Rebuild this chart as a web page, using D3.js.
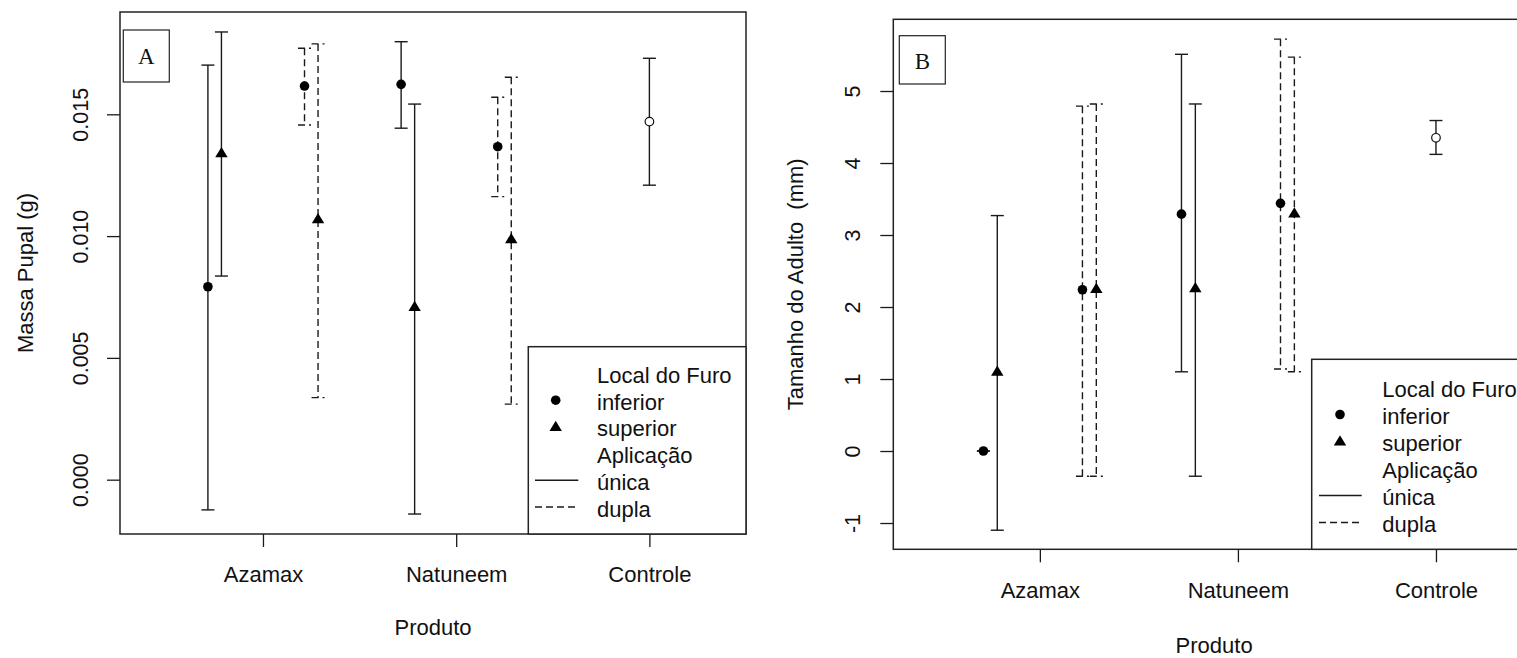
<!DOCTYPE html>
<html>
<head>
<meta charset="utf-8">
<script src="https://cdn.jsdelivr.net/npm/d3@7"></script>
<style>
  body { margin: 0; background: #fff; }
  text { font-family: "Liberation Sans", Arial, sans-serif; fill: #111; }
</style>
</head>
<body>
<div id="chart"></div>
<script>
// Categories of the x axis
const produtos = ["Azamax", "Natuneem", "Controle"];

// One entry per error bar (same order in every value array)
const grupoProduto   = ["Azamax", "Azamax", "Azamax", "Azamax", "Natuneem", "Natuneem", "Natuneem", "Natuneem", "Controle"];
const grupoLocal     = ["inferior", "superior", "inferior", "superior", "inferior", "superior", "inferior", "superior", "controle"];
const grupoAplicacao = ["única", "única", "dupla", "dupla", "única", "única", "dupla", "dupla", "única"];

// Panel A: Massa Pupal (g), mean and interval limits
const massaMedia = [0.00792, 0.01340, 0.01616, 0.01069, 0.01623, 0.00709, 0.01367, 0.00987, 0.01470];
const massaSup   = [0.01702, 0.01838, 0.01771, 0.01789, 0.01798, 0.01542, 0.01570, 0.01652, 0.01730];
const massaInf   = [-0.00124, 0.00836, 0.01456, 0.00337, 0.01443, -0.00141, 0.01162, 0.00310, 0.01209];
const ticksMassa = [0.000, 0.005, 0.010, 0.015];

// Panel B: Tamanho do Adulto (mm), mean and interval limits
const tamanhoMedia = [0.00, 1.10, 2.24, 2.25, 3.29, 2.26, 3.44, 3.30, 4.35];
const tamanhoSup   = [0.00, 3.27, 4.79, 4.82, 5.51, 4.82, 5.72, 5.47, 4.59];
const tamanhoInf   = [0.00, -1.10, -0.35, -0.35, 1.10, -0.35, 1.14, 1.10, 4.12];
const ticksTamanho = [-1, 0, 1, 2, 3, 4, 5];

// Legend entries
const tituloLocal = "Local do Furo";
const legendaLocal = ["inferior", "superior"];
const tituloAplicacao = "Aplicação";
const legendaAplicacao = ["única", "dupla"];

let width = 1517;
let height = 658;
var dash = "7,4";
var capHalf = 6.5;
var strokeCol = "#1a1a1a";

//side shift of each group around the product tick (in x units)
var shift = {
    "inferior|única": -0.285,
    "superior|única": -0.215,
    "inferior|dupla": 0.215,
    "superior|dupla": 0.285,
    "controle|única": 0
};

let svg = d3.select("#chart").append("svg")
            .attr("width", width)
            .attr("height", height);

drawPanel({
    left: 120, right: 746, top: 12, bottom: 534,
    yDomain: [-0.00223, 0.0192],
    ticks: ticksMassa, fmt: d3.format(".3f"),
    media: massaMedia, sup: massaSup, inf: massaInf,
    ylab: "Massa Pupal (g)", ylabX: 33, tickLabX: 88, xtickY: 582, xlabY: 635,
    tag: {x: 123.3, y: 30, w: 46, h: 52, label: "A", base: 63.5},
    legend: {x: 528.3, y: 346.7, textX: 597, symX: 555.7, lx1: 535, lx2: 578.3, base: 383, step: 26.7}
});

drawPanel({
    left: 893.3, right: 1535, top: 19.3, bottom: 549.3,
    yDomain: [-1.365, 5.996],
    ticks: ticksTamanho, fmt: function(d) { return String(d); }, // plain hyphen like R
    media: tamanhoMedia, sup: tamanhoSup, inf: tamanhoInf,
    ylab: "Tamanho do Adulto\u00a0 (mm)", ylabX: 803, tickLabX: 860, xtickY: 598, xlabY: 653,
    tag: {x: 899.3, y: 35.7, w: 46, h: 48.3, label: "B", base: 69},
    legend: {x: 1311.7, y: 359.3, textX: 1382.3, symX: 1340, lx1: 1319, lx2: 1361.7, base: 397, step: 27}
});

/*drawPanel: draws one of the two error bar panels
*Parameters:
*   p: layout of the panel plus the arrays to draw
*/
function drawPanel(p) {
    let x = d3.scaleLinear().domain([0.26, 3.5]).range([p.left, p.right]);
    let y = d3.scaleLinear().domain(p.yDomain).range([p.bottom, p.top]);
    let g = svg.append("g");

    //y axis, labels turned like in R
    let yAxis = g.append("g")
                 .attr("transform", "translate(" + p.left + ",0)")
                 .call(d3.axisLeft(y).tickValues(p.ticks).tickFormat(p.fmt).tickSize(13));
    yAxis.select(".domain").remove();
    yAxis.selectAll("line").attr("stroke", strokeCol).attr("stroke-width", 1.3);
    yAxis.selectAll("text")
         .attr("x", 0).attr("dy", null)
         .attr("y", p.tickLabX - p.left)
         .attr("transform", "rotate(-90)")
         .attr("text-anchor", "middle")
         .style("font-size", "21.5px")
         .style("font-family", "'Liberation Sans', Arial, sans-serif")
         .attr("fill", "#111");

    //x axis
    let xAxis = g.append("g")
                 .attr("transform", "translate(0," + p.bottom + ")")
                 .call(d3.axisBottom(x).tickValues([1, 2, 3]).tickFormat(function(d) { return produtos[d - 1]; }).tickSize(13));
    xAxis.select(".domain").remove();
    xAxis.selectAll("line").attr("stroke", strokeCol).attr("stroke-width", 1.3);
    xAxis.selectAll("text")
         .attr("y", p.xtickY - p.bottom).attr("dy", null)
         .style("font-size", "22px")
         .style("font-family", "'Liberation Sans', Arial, sans-serif")
         .attr("fill", "#111");

    //axis titles
    g.append("text")
     .attr("transform", "translate(" + p.ylabX + "," + ((p.top + p.bottom) / 2) + ") rotate(-90)")
     .attr("text-anchor", "middle")
     .style("font-size", "22px")
     .text(p.ylab);
    g.append("text")
     .attr("x", (p.left + p.right) / 2)
     .attr("y", p.xlabY)
     .attr("text-anchor", "middle")
     .style("font-size", "22px")
     .text("Produto");

    //error bars and points
    let bars = g.append("g");
    for (let i = 0; i < p.media.length; i++) {
        let cx = x(produtos.indexOf(grupoProduto[i]) + 1 + shift[grupoLocal[i] + "|" + grupoAplicacao[i]]);
        let da = grupoAplicacao[i] == "dupla" ? dash : null;

        bars.append("line")
            .attr("x1", cx).attr("x2", cx)
            .attr("y1", y(p.sup[i])).attr("y2", y(p.inf[i]))
            .attr("stroke", strokeCol).attr("stroke-width", 1.4)
            .attr("stroke-dasharray", da);
        [p.sup[i], p.inf[i]].forEach(function(v) {
            bars.append("line")
                .attr("x1", cx - capHalf).attr("x2", cx + capHalf)
                .attr("y1", y(v)).attr("y2", y(v))
                .attr("stroke", strokeCol).attr("stroke-width", 1.4)
                .attr("stroke-dasharray", da);
        });
        drawSymbol(bars, grupoLocal[i], cx, y(p.media[i]));
    }

    //plot box
    g.append("rect")
     .attr("x", p.left).attr("y", p.top)
     .attr("width", p.right - p.left).attr("height", p.bottom - p.top)
     .attr("fill", "none").attr("stroke", "#222").attr("stroke-width", 1.5);

    //panel tag
    g.append("rect")
     .attr("x", p.tag.x).attr("y", p.tag.y)
     .attr("width", p.tag.w).attr("height", p.tag.h)
     .attr("fill", "#fff").attr("stroke", "#222").attr("stroke-width", 1.2);
    g.append("text")
     .attr("x", p.tag.x + p.tag.w / 2).attr("y", p.tag.base)
     .attr("text-anchor", "middle")
     .style("font-family", "'Liberation Serif', 'Times New Roman', serif")
     .style("font-size", "23px")
     .text(p.tag.label);

    drawLegend(g, p.legend, p.right, p.bottom);
}

/*drawSymbol: filled circle, filled triangle or open circle for the control
*/
function drawSymbol(sel, local, cx, cy) {
    if (local == "inferior") {
        sel.append("circle").attr("cx", cx).attr("cy", cy).attr("r", 4.8).attr("fill", "#000");
    } else if (local == "superior") {
        sel.append("path")
           .attr("d", "M" + cx + "," + (cy - 6.2) + "L" + (cx + 6.2) + "," + (cy + 4) + "L" + (cx - 6.2) + "," + (cy + 4) + "Z")
           .attr("fill", "#000");
    } else {
        sel.append("circle").attr("cx", cx).attr("cy", cy).attr("r", 4.3)
           .attr("fill", "#fff").attr("stroke", "#111").attr("stroke-width", 1.2);
    }
}

/*drawLegend: legend box in the lower right corner
*/
function drawLegend(g, L, right, bottom) {
    let lg = g.append("g");
    lg.append("rect")
      .attr("x", L.x).attr("y", L.y)
      .attr("width", right - L.x).attr("height", bottom - L.y)
      .attr("fill", "#fff").attr("stroke", "#222").attr("stroke-width", 1.5);

    let rows = [tituloLocal].concat(legendaLocal, [tituloAplicacao], legendaAplicacao);
    rows.forEach(function(r, i) {
        lg.append("text")
          .attr("x", L.textX).attr("y", L.base + i * L.step)
          .style("font-size", "22px")
          .text(r);
    });
    legendaLocal.forEach(function(r, i) {
        drawSymbol(lg, r, L.symX, L.base + (i + 1) * L.step - 9.5);
    });
    legendaAplicacao.forEach(function(r, i) {
        let yy = L.base + (i + 4) * L.step - 9.5;
        lg.append("line")
          .attr("x1", L.lx1).attr("x2", L.lx2)
          .attr("y1", yy).attr("y2", yy)
          .attr("stroke", strokeCol).attr("stroke-width", 1.4)
          .attr("stroke-dasharray", r == "dupla" ? dash : null);
    });
}
</script>
</body>
</html>
